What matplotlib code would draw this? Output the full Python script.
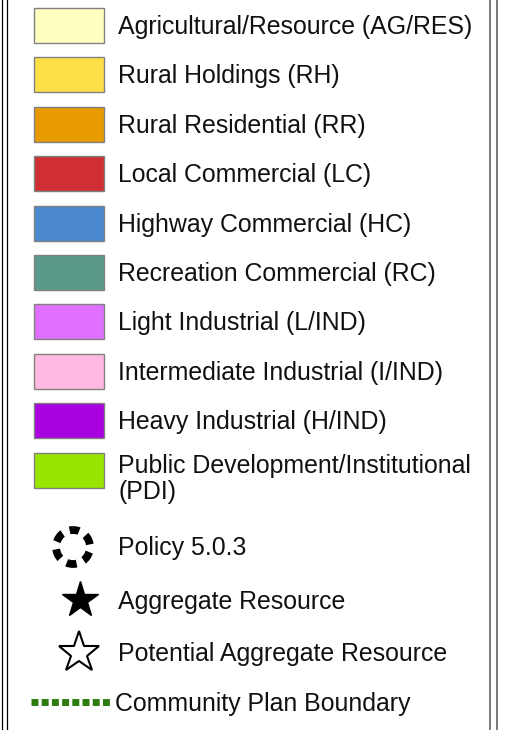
import matplotlib.pyplot as plt
from matplotlib.patches import Rectangle, Circle

# legend entries
zone_labels = [
    "Agricultural/Resource (AG/RES)",
    "Rural Holdings (RH)",
    "Rural Residential (RR)",
    "Local Commercial (LC)",
    "Highway Commercial (HC)",
    "Recreation Commercial (RC)",
    "Light Industrial (L/IND)",
    "Intermediate Industrial (I/IND)",
    "Heavy Industrial (H/IND)",
    "Public Development/Institutional\n(PDI)",
]
zone_colors = [
    "#ffffc0", "#fde047", "#e89b00", "#d03034", "#4a88d0",
    "#5a9a8a", "#e070ff", "#ffb8e2", "#a800e0", "#98e600",
]
symbol_labels = ["Policy 5.0.3", "Aggregate Resource", "Potential Aggregate Resource"]
line_label = "Community Plan Boundary"

W, H = 508, 730
fig = plt.figure(figsize=(W / 100, H / 100), dpi=100)
ax = fig.add_axes([0, 0, 1, 1])
ax.set_xlim(0, W)
ax.set_ylim(H, 0)
ax.axis("off")

font = dict(family="Liberation Sans", fontsize=17.9, color="#111111")

# frame lines
ax.plot([1.7, 1.7], [0, H], color="black", lw=0.9)
ax.plot([7.3, 7.3], [0, H], color="black", lw=0.9)
ax.plot([490, 490], [0, H], color="#555555", lw=1.1)
ax.plot([496.7, 496.7], [0, H], color="#555555", lw=1.1)

# coloured swatches
y0, step = 25.5, 49.4
for i, (lab, col) in enumerate(zip(zone_labels, zone_colors)):
    yc = y0 + i * step
    ax.add_patch(Rectangle((33.5, yc - 17.5), 70.5, 35, facecolor=col,
                           edgecolor="#808080", lw=1.0))
    if "\n" in lab:
        first, second = lab.split("\n")
        ax.text(118, yc - 6 + 8.5, first, va="baseline", **font)
        ax.text(118, yc + 20 + 8.5, second, va="baseline", **font)
    else:
        ax.text(118, yc + 8.5, lab, va="baseline", **font)

# policy circle
ax.add_patch(Circle((73, 547), 17, fill=False, edgecolor="black", lw=5.6,
                    linestyle=(0.5, (1.3, 1.0))))
ax.text(118, 547 + 8.5, symbol_labels[0], va="baseline", **font)

# stars
ax.plot([80], [600], marker="*", ms=27, color="black", mec="black")
ax.text(118, 600 + 8.5, symbol_labels[1], va="baseline", **font)
ax.plot([79], [653], marker="*", ms=31, mfc="white", mec="black", mew=1.5)
ax.text(118, 653 + 8.5, symbol_labels[2], va="baseline", **font)

# community plan boundary
ax.plot([31, 110], [702, 702], color="#2c7c12", lw=5.0,
        linestyle=(0, (1, 0.47)), solid_capstyle="butt", dash_capstyle="butt")
ax.text(115, 702 + 8.5, line_label, va="baseline", **font)

fig.savefig("out.png", dpi=100)
